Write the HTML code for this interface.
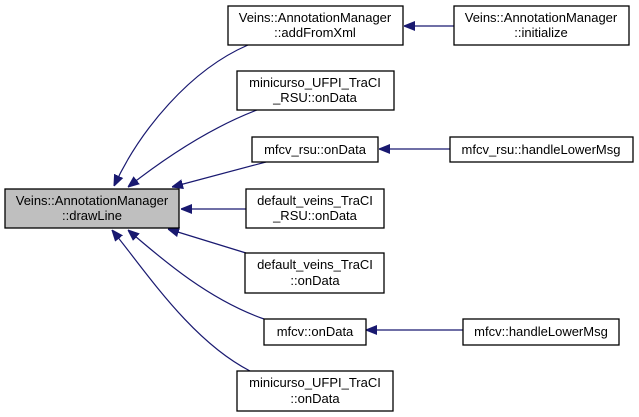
<!DOCTYPE html>
<html><head><style>
body{margin:0;background:#fff;width:639px;height:417px;overflow:hidden}
svg{display:block}
text{font-family:"Liberation Sans",Arial,sans-serif;font-size:13px;fill:#000;text-anchor:middle}
rect{stroke:#000;stroke-width:1.3}
path.e{fill:none;stroke:#191970;stroke-width:1.2}
path.h{fill:#191970;stroke:#191970;stroke-width:1}
</style></head><body>
<svg width="639" height="417" viewBox="0 0 639 417">
<defs><marker id="a" viewBox="0 0 10 10" refX="10" refY="5" markerWidth="11" markerHeight="11" markerUnits="userSpaceOnUse" orient="auto"><path class="h" d="M0,1 L10,5 L0,9 Z"/></marker></defs>
<path class="e" d="M248,45 C190,70 140,130 114,186" marker-end="url(#a)"/>
<path class="e" d="M257,110 C210,128 165,158 128,187" marker-end="url(#a)"/>
<path class="e" d="M266,162 L172,187" marker-end="url(#a)"/>
<path class="e" d="M246,209 L181,209" marker-end="url(#a)"/>
<path class="e" d="M246,253 L168,229" marker-end="url(#a)"/>
<path class="e" d="M264,319 C210,300 165,262 128,230" marker-end="url(#a)"/>
<path class="e" d="M250,371 C190,340 145,270 112,230" marker-end="url(#a)"/>
<path class="e" d="M454,26 L404,26" marker-end="url(#a)"/>
<path class="e" d="M450,149 L379,149" marker-end="url(#a)"/>
<path class="e" d="M463,330 L366,330" marker-end="url(#a)"/>

<rect x="5" y="189" width="174" height="39" fill="#bfbfbf"/>
<text x="92" y="205">Veins::AnnotationManager</text><text x="92" y="220">::drawLine</text>

<rect x="228" y="6" width="175" height="39" fill="#fff"/>
<text x="315" y="22">Veins::AnnotationManager</text><text x="315" y="37">::addFromXml</text>

<rect x="454" y="6" width="175" height="39" fill="#fff"/>
<text x="541" y="22">Veins::AnnotationManager</text><text x="541" y="37">::initialize</text>

<rect x="237" y="71" width="157" height="39" fill="#fff"/>
<text x="315" y="87">minicurso_UFPI_TraCI</text><text x="315" y="102">_RSU::onData</text>

<rect x="252" y="137" width="126" height="25" fill="#fff"/>
<text x="315" y="154">mfcv_rsu::onData</text>

<rect x="450" y="137" width="183" height="25" fill="#fff"/>
<text x="541" y="154">mfcv_rsu::handleLowerMsg</text>

<rect x="246" y="189" width="138" height="39" fill="#fff"/>
<text x="315" y="205">default_veins_TraCI</text><text x="315" y="220">_RSU::onData</text>

<rect x="245" y="253" width="139" height="40" fill="#fff"/>
<text x="315" y="269">default_veins_TraCI</text><text x="315" y="285">::onData</text>

<rect x="264" y="319" width="102" height="26" fill="#fff"/>
<text x="315" y="336">mfcv::onData</text>

<rect x="463" y="319" width="156" height="26" fill="#fff"/>
<text x="541" y="336">mfcv::handleLowerMsg</text>

<rect x="237" y="371" width="156" height="40" fill="#fff"/>
<text x="315" y="387">minicurso_UFPI_TraCI</text><text x="315" y="403">::onData</text>
</svg>
</body></html>
